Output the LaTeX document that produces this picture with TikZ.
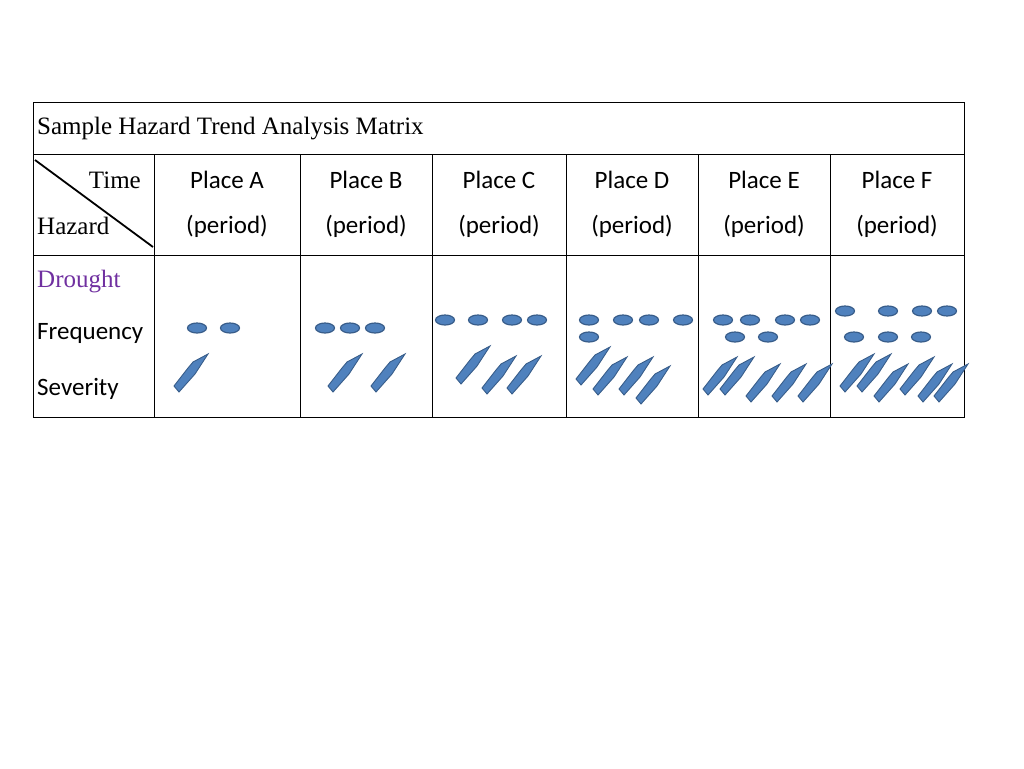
\documentclass[tikz,border=0pt]{standalone}
\usepackage{fontspec}
\setmainfont{Liberation Serif}
\newfontfamily\calib{Carlito}
\usetikzlibrary{shapes.geometric}
\begin{document}
\begin{tikzpicture}[x=1pt,y=-1pt]
		% Define styles
		\tikzset{
			grid/.style={draw, line width=0.9pt},
			serif/.style={font=\fontsize{25}{28}\selectfont, inner sep=0pt, anchor=west},
			sans/.style={font=\calib\fontsize{25}{28}\selectfont, inner sep=0pt},
			dot/.style={ellipse, draw={rgb,255:red,56;green,93;blue,138}, line width=1.2pt, fill={rgb,255:red,79;green,129;blue,189}, minimum width=19pt, minimum height=10pt, inner sep=0pt},
			wedge/.pic={\filldraw[draw={rgb,255:red,56;green,93;blue,138}, line width=0.9pt, fill={rgb,255:red,79;green,129;blue,189}]
				(0,-4) -- (5,2) -- (21,-16) -- (34,-36) -- (19,-28) -- (14,-22) -- cycle;}
		}
		\useasboundingbox (0,0) rectangle (1024,768);
		
		% Table frame
		\draw[grid] (33,102) rectangle (964,417);
		\draw[grid] (33,154) -- (964,154);
		\draw[grid] (33,255) -- (964,255);
		\foreach \x in {154,300,432,566,698,830}
			\draw[grid] (\x,154) -- (\x,417);
		\draw[line width=1.8pt] (35,160) -- (153,247);
		
		% Row labels
		\node[serif] (title) at (37,129) {Sample Hazard Trend Analysis Matrix};
		\node[serif, anchor=east] (time) at (141,180) {Time};
		\node[serif] (hazard) at (37,226) {Hazard};
		\node[serif, text={rgb,255:red,112;green,48;blue,160}] (drought) at (37,282) {Drought};
		\node[sans, anchor=west] (freq) at (37,333) {Frequency};
		\node[sans, anchor=west] (sev) at (37,389) {Severity};
		
		% Column headers
		\foreach \x/\p in {227/A,366/B,499/C,632/D,764/E,897/F} {
			\node[sans] (place\p) at (\x,180) {Place \p};
			\node[sans] (period\p) at (\x,226) {(period)};
		}
		
		% Frequency
		\foreach \x/\y [count=\i] in {197/328,230/328, 325/328,350/328,375/328,
			445/320,478/320,512/320,537/320,
			589/320,623/320,649/320,683/320,589/337,
			723/320,750/320,785/320,810/320,735/337,768/337,
			845/311,888/311,922/311,947/311,854/337,888/337,921/337}
			\node[dot] (f\i) at (\x,\y) {};
		
		% Severity
		\foreach \x/\y in {174/390, 328/390,371/390,
			456/382,482/392,507/392,
			576/383,593/393,619/393,636/402,
			703/393,720/393,746/400,772/400,798/400,
			840/390,857/390,874/400,900/393,918/400,934/400}
			\pic at (\x,\y) {wedge};
	\end{tikzpicture}
\end{document}
